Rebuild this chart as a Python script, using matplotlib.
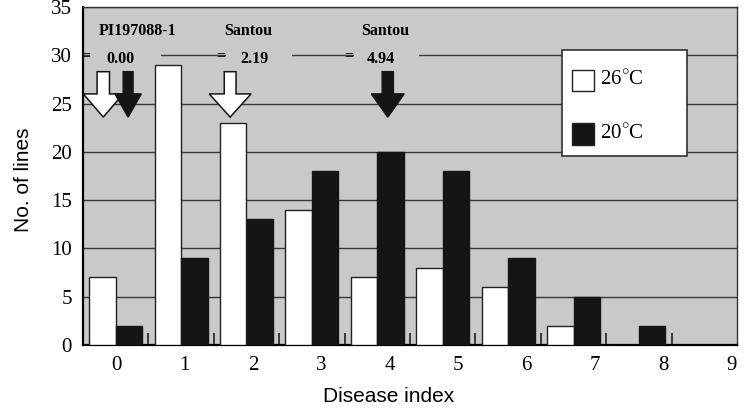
import numpy as np
import matplotlib
matplotlib.use("Agg")
import matplotlib.pyplot as plt
from matplotlib.patches import FancyArrow, Rectangle

# disease index classes and number of lines per class
disease_index = list(range(10))
lines_26c = [7, 29, 23, 14, 7, 8, 6, 2, 0, 0]
lines_20c = [2, 9, 13, 18, 20, 18, 9, 5, 2, 0]
tick_labels = [str(i) for i in disease_index]

# parent means marked with arrows
parent_names = ["PI197088-1", "Santou", "Santou"]
parent_values = ["0.00", "2.19", "4.94"]

BG = "#c8c9cb"
SERIF = "Liberation Serif"
SANS = "Liberation Sans"

plt.rcParams["mathtext.fontset"] = "custom"
plt.rcParams["mathtext.rm"] = SERIF

fig = plt.figure(figsize=(7.46, 4.09), dpi=100)
ax = fig.add_axes([83 / 746, 64 / 409, 654 / 746, 338 / 409])
ax.set_facecolor(BG)

x = np.array(disease_index)
w = 0.405
ax.bar(x - w / 2, lines_26c, width=w, color="white", edgecolor="#222222", linewidth=1, zorder=3)
ax.bar(x + w / 2, lines_20c, width=w, color="#151515", edgecolor="#151515", linewidth=1, zorder=3)

ax.set_xlim(-0.5, 9.5)
ax.set_ylim(0, 35)

# gridlines
ax.set_yticks(range(0, 36, 5))
ax.yaxis.grid(True, color="#3a3a3a", linewidth=1)
ax.set_axisbelow(True)
ax.tick_params(axis="y", length=0, pad=8, labelsize=15)

# labels are spread a little wider than the bar groups in the original
ax.set_xticks(x * 1.046 + 0.005)
ax.set_xticklabels(tick_labels)
ax.tick_params(axis="x", length=0, pad=8, labelsize=15)
ax.set_xticks(x[:-1] + 0.5, minor=True)
ax.tick_params(axis="x", which="minor", direction="in", length=8.5, width=1.2, color="#222222")

for lab in ax.get_xticklabels() + ax.get_yticklabels():
    lab.set_family(SERIF)

for s in ["left", "bottom"]:
    ax.spines[s].set_linewidth(1.6)
for s in ["top", "right"]:
    ax.spines[s].set_linewidth(1.0)
    ax.spines[s].set_color("#333333")

# breaks in the 30 gridline behind the annotations
for x0, x1 in [(-0.39, 0.70), (1.69, 2.70), (3.65, 4.63)]:
    ax.add_patch(Rectangle((x0, 29.4), x1 - x0, 1.2, facecolor=BG, edgecolor="none", zorder=1))

name_x = [0.34, 2.03, 4.12]
eq_x = [-0.45, 1.60, 3.57]
val_x = [0.08, 2.12, 4.06]
for nx, ex, vx, name, val in zip(name_x, eq_x, val_x, parent_names, parent_values):
    ax.text(nx, 32.5, name, ha="center", va="center", family=SERIF, weight="bold", fontsize=11.5, zorder=4)
    ax.text(ex, 29.9, "=", ha="center", va="center", family=SERIF, weight="bold", fontsize=11.5, zorder=4)
    ax.text(vx, 29.6, val, ha="center", va="center", family=SERIF, weight="bold", fontsize=11.5, zorder=4)

# arrows: (x, shaft width, head width, fill)
arrows = [(-0.19, 0.19, 0.61, "white"), (0.19, 0.15, 0.40, "#151515"),
          (1.75, 0.18, 0.64, "white"), (4.16, 0.17, 0.50, "#151515")]
for ax_x, sw, hw, col in arrows:
    ax.add_patch(FancyArrow(ax_x, 28.3, 0, -4.7, width=sw, head_width=hw, head_length=2.4,
                            length_includes_head=True, facecolor=col, edgecolor="#151515",
                            linewidth=1.1, zorder=5))

# legend box
ax.add_patch(Rectangle((0.732, 0.559), 0.192, 0.314, transform=ax.transAxes, facecolor="white",
                       edgecolor="#222222", linewidth=1.1, zorder=6))
for yy, col, lab in [(0.751, "white", "26$^{\\circ}$C"), (0.592, "#151515", "20$^{\\circ}$C")]:
    ax.add_patch(Rectangle((0.748, yy), 0.033, 0.064, transform=ax.transAxes, facecolor=col,
                           edgecolor="#222222", linewidth=1, zorder=7))
    ax.text(0.79, yy + 0.034, lab, transform=ax.transAxes, ha="left", va="center",
            family=SERIF, fontsize=15, zorder=7)

fig.text(389 / 746, 1 - 397 / 409, "Disease index", ha="center", va="center", family=SANS, fontsize=15)
fig.text(24 / 746, 1 - 180 / 409, "No. of lines", ha="center", va="center", rotation=90,
         family=SANS, fontsize=15)

fig.savefig("out.png", dpi=100, facecolor="white")
